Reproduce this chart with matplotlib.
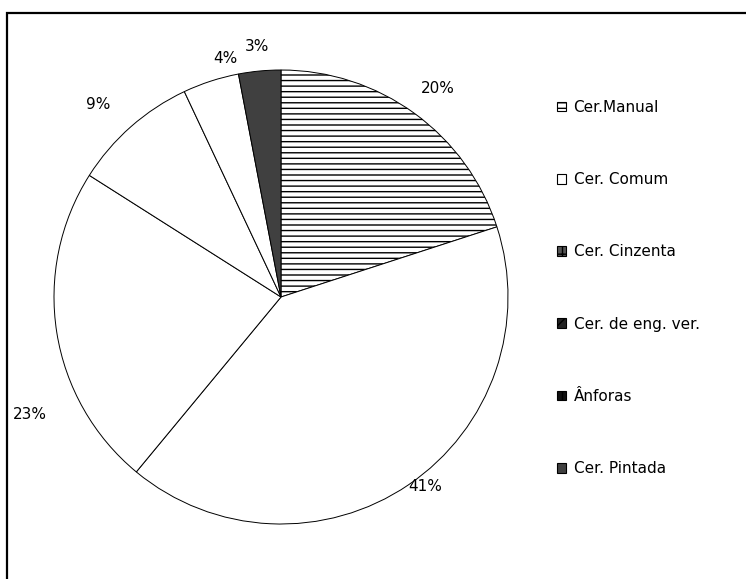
import numpy as np
import matplotlib
matplotlib.use("Agg")
import matplotlib.pyplot as plt
from matplotlib.patches import Rectangle, Patch

# dados do gráfico
categorias = ["Cer.Manual", "Cer. Comum", "Cer. Cinzenta",
              "Cer. de eng. ver.", "Ânforas", "Cer. Pintada"]
percentagens = [20, 41, 23, 9, 4, 3]
rotulos = ["20%", "41%", "23%", "9%", "4%", "3%"]

# distância radial e desvio angular de cada rótulo
rot_dist = [1.15, 1.05, 1.22, 1.17, 1.08, 1.11]
rot_desvio = [-1, 3, 16, 2, -5, 0]

plt.rcParams['font.family'] = ['DejaVu Sans']

W, H = 746, 579
fig = plt.figure(figsize=(W / 100, H / 100), dpi=100)
fig.patch.set_facecolor("white")

# moldura exterior
fig.add_artist(Rectangle((7 / W, -0.05), 1.2, (H - 13) / H + 0.05,
                         transform=fig.transFigure, fill=False,
                         edgecolor="black", lw=1.6))

ax = fig.add_axes([0, 0, 1, 1])
ax.set_xlim(0, W)
ax.set_ylim(0, H)
ax.set_aspect("equal")
ax.axis("off")

cx, cy, r = 281, H - 297, 227
cores = ["white", "white", "white", "white", "white", "#404040"]
wedges, _ = ax.pie(percentagens, colors=cores, startangle=90, counterclock=False,
                   center=(cx, cy), radius=r,
                   wedgeprops=dict(edgecolor="black", linewidth=0.7))
wedges[0].set_hatch("---")
ax.set_xlim(0, W)
ax.set_ylim(0, H)

# rótulos de percentagem
for w, txt, d, da in zip(wedges, rotulos, rot_dist, rot_desvio):
    ang = np.deg2rad((w.theta1 + w.theta2) / 2 + da)
    ax.text(cx + r * d * np.cos(ang), cy + r * d * np.sin(ang), txt,
            ha="center", va="center", fontsize=11)

# legenda
estilos = [
    dict(facecolor="white", hatch="---"),
    dict(facecolor="white"),
    dict(facecolor="#555555", hatch="++"),
    dict(facecolor="#222222", hatch="//"),
    dict(facecolor="#111111", hatch="||"),
    dict(facecolor="#404040"),
]
handles = [Patch(edgecolor="black", linewidth=0.8, **e) for e in estilos]
fig.legend(handles, categorias, loc="upper left",
           bbox_to_anchor=(543 / W, 1 - 86 / H), frameon=False,
           fontsize=11, labelspacing=3.75, handlelength=0.6,
           handleheight=0.6, handletextpad=0.5)

fig.savefig("out.png", dpi=100, facecolor="white")
